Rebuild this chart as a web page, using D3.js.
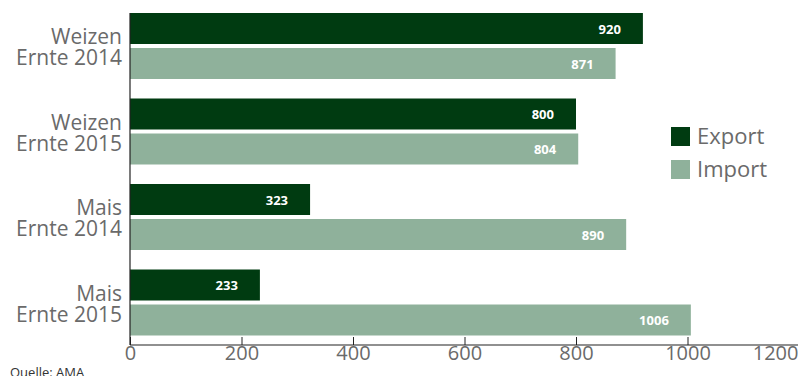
<!DOCTYPE html>
<html><head><meta charset="utf-8">
<script src="https://cdn.jsdelivr.net/npm/d3@7"></script>
<style>body{margin:0;background:#fff;}svg{display:block;}</style>
</head><body>
<script>
const categories = [["Weizen","Ernte 2014"],["Weizen","Ernte 2015"],["Mais","Ernte 2014"],["Mais","Ernte 2015"]];
const seriesNames = ["Export","Import"];
const exportValues = [920, 800, 323, 233];
const importValues = [871, 804, 890, 1006];
const xTicks = [0, 200, 400, 600, 800, 1000, 1200];
const colors = ["#003b11", "#8fb19b"];

const W = 798, H = 376;
const svg = d3.select("body").append("svg").attr("width", W).attr("height", H);
const font = "'Open Sans', sans-serif";

const x = d3.scaleLinear().domain([0, 1200]).range([130, 799]);
const yg = d3.scalePoint().domain(d3.range(categories.length)).range([13, 269.5]);
const barH = 31, gap = 4;

const data = categories.map((c, i) => ({c, i, vals: [exportValues[i], importValues[i]]}));

const g = svg.append("g");
data.forEach(d => {
  d.vals.forEach((v, s) => {
    const top = yg(d.i) + s * (barH + gap);
    g.append("rect").attr("x", x(0)).attr("y", top).attr("width", x(v) - x(0)).attr("height", barH).attr("fill", colors[s]);
    g.append("text").attr("x", x(v) - 22).attr("y", top + barH / 2 + 5)
      .attr("text-anchor", "end").attr("fill", "#fff").attr("font-family", font)
      .attr("font-weight", "bold").attr("font-size", 13).text(v);
  });
  const cy = yg(d.i) + (2 * barH + gap) / 2;
  const t = g.append("text").attr("text-anchor", "end").attr("fill", "#6a6a6a")
    .attr("font-family", font).attr("font-size", 21);
  t.append("tspan").attr("x", 122).attr("y", cy - 2).text(d.c[0]);
  t.append("tspan").attr("x", 122).attr("y", cy + 19).text(d.c[1]);
});

// axes
const xAxis = d3.axisBottom(x).tickValues(xTicks).tickFormat(d3.format("d")).tickSize(7).tickSizeOuter(0);
const ax = svg.append("g").attr("transform", "translate(0,345)").call(xAxis);
ax.select(".domain").attr("stroke", "#222").attr("stroke-width", 1.2).attr("d", "M130,0H799");
ax.selectAll(".tick line").attr("stroke", "#222").attr("y1", 0).attr("y2", -8);
ax.selectAll(".tick text").attr("font-family", font).attr("font-size", 20).attr("fill", "#6a6a6a").attr("dy", "0.5em").attr("y", 5);
ax.selectAll(".tick").filter(d => d === 1200).select("text").attr("text-anchor", "end").attr("x", -1);

svg.append("line").attr("x1", x(0)).attr("x2", x(0)).attr("y1", 13).attr("y2", 345).attr("stroke", "#222").attr("stroke-width", 1.2);

// legend
seriesNames.forEach((n, i) => {
  const ly = 127 + i * 33;
  svg.append("rect").attr("x", 671).attr("y", ly).attr("width", 19).attr("height", 19).attr("fill", colors[i]);
  svg.append("text").attr("x", 697).attr("y", ly + 17).attr("font-family", font).attr("font-size", 22).attr("fill", "#6a6a6a").text(n);
});

svg.append("text").attr("x", 10).attr("y", 377).attr("font-family", font).attr("font-size", 13).attr("fill", "#333").text("Quelle: AMA");
</script>
</body></html>
